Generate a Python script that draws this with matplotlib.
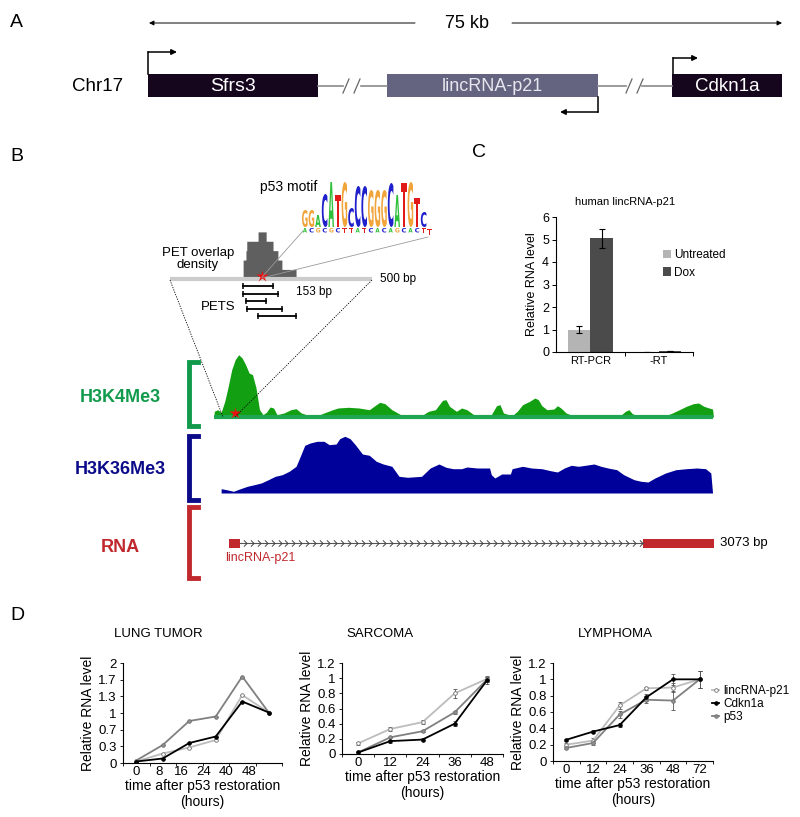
import numpy as np
import matplotlib
matplotlib.use('Agg')
import matplotlib.pyplot as plt
from matplotlib.patches import Rectangle, PathPatch
from matplotlib.textpath import TextPath
from matplotlib.font_manager import FontProperties, fontManager
from matplotlib.path import Path
import matplotlib.transforms as mtransforms
from matplotlib.lines import Line2D

plt.rcParams['font.family'] = ['Liberation Sans', 'DejaVu Sans']
installed = {f.name for f in fontManager.ttflist}
narrow = 'Liberation Sans Narrow' if 'Liberation Sans Narrow' in installed else 'Liberation Sans'

# ---------------- data ----------------
# panel A genes
gene_names = ['Sfrs3', 'lincRNA-p21', 'Cdkn1a']

# panel B: p53 motif logo (main letter + small letter under it)
motif_letters = ['G', 'G', 'A', 'C', 'A', 'T', 'G', 'C', 'C', 'C', 'G', 'G', 'G', 'C', 'A', 'T', 'G', 'T', 'C']
motif_heights = [17, 17, 12, 33, 45, 32, 45, 19, 41, 41, 37, 37, 37, 44, 32, 44, 45, 29, 15]
motif_small = ['A', 'C', 'G', 'C', 'G', 'C', 'T', 'T', 'A', 'T', 'C', 'A', 'C', 'A', 'G', 'C', 'A', 'C', 'T']

# PETs inside the 500 bp window (bp start, bp end)
pet_start = [181, 181, 188, 190, 218]
pet_end = [255, 267, 238, 277, 312]
p53_site_bp = 228

# H3K4Me3 signal (position in bp relative to lincRNA-p21 TSS, height)
k4_pos = [-94, -72, -50, -27, -5, 17, 39, 61, 83, 105, 127, 149, 171, 193, 215, 237, 260, 282, 304, 348,
          392, 425, 458, 491, 558, 602, 657, 690, 756, 823, 889, 933, 955, 988, 1032, 1088, 1154, 1220,
          1264, 1308, 1353, 1375, 1397, 1441, 1474, 1507, 1551, 1595, 1662, 1695, 1717, 1739, 1794, 1827,
          1860, 1905, 1938, 1960, 1982, 2015, 2059, 2081, 2103, 2136, 2169, 2214, 2479, 2512, 2534, 2556,
          2589, 2766, 2810, 2854, 2898, 2942, 2975, 3009, 3042, 3064, 3070]
k4_sig = [5.7, 7.3, 4.7, 15.7, 30.7, 47.3, 57.3, 62.3, 59, 52.3, 44, 42.3, 29, 7.3, 2.3, 4.7, 10, 9, 2.3, 4,
          7.3, 8.3, 4, 2.3, 1.3, 4, 7.3, 9, 9.7, 9, 7.3, 12.3, 14.7, 13.3, 7.3, 2.3, 1.3, 1.3,
          5.7, 7.3, 16.7, 17.3, 10.7, 5.7, 9, 7.3, 2.3, 1.3, 2.3, 11.3, 12.3, 4, 1.3, 5.7,
          12.3, 15.7, 19, 17.3, 11.3, 7.3, 8, 11.3, 9, 4, 2, 1.3, 1.3, 5.7, 7.3, 3.3,
          1.3, 1.3, 4, 7.3, 10.7, 13.3, 14, 10.7, 9, 8, 0]

# H3K36Me3 signal
k36_pos = [-50, -16, 28, 72, 116, 160, 204, 249, 293, 337, 381, 425, 447, 480, 514, 558, 602, 635, 679,
           701, 734, 767, 800, 845, 889, 933, 977, 1032, 1077, 1132, 1220, 1275, 1330, 1375, 1419, 1474,
           1507, 1573, 1651, 1662, 1684, 1728, 1783, 1794, 1860, 1916, 1982, 2037, 2081, 2125, 2169, 2214,
           2258, 2313, 2357, 2401, 2457, 2501, 2567, 2611, 2655, 2699, 2766, 2832, 2898, 2964, 3020, 3053, 3064]
k36_sig = [4.3, 3.3, 1.7, 4.3, 6.7, 8.3, 10, 13.3, 16.7, 18.3, 21.7, 26.7, 35, 47.7, 50, 51.7, 51.7, 48.3, 49,
           54.3, 56.7, 54.3, 48.3, 39, 37.7, 31.7, 29, 26.7, 16.7, 15.7, 16.7, 25, 29, 25.7, 24.3, 24.3,
           26, 25, 25, 18.3, 15, 19, 19, 24.3, 26.7, 25, 24.3, 22.3, 21, 25, 27.7, 26.7,
           27.7, 29, 26.7, 25, 23.3, 18.3, 13.3, 11.7, 11, 15, 20, 23.3, 24.3, 25, 24.3, 20, 0]

# lincRNA-p21 exons (bp)
exon_start = [0, 2623]
exon_end = [70, 3073]

# panel C
c_groups = ['RT-PCR', '-RT']
c_untreated = [1.0, 0.02]
c_untreated_err = [0.17, 0.0]
c_dox = [5.05, 0.05]
c_dox_err = [0.42, 0.0]

# panel D
lung_t = ['0', '8', '16', '24', '40', '48']
lung_lnc = [0.03, 0.19, 0.31, 0.46, 1.36, 1.01]
lung_cdk = [0.03, 0.09, 0.40, 0.53, 1.23, 1.01]
lung_p53 = [0.05, 0.36, 0.84, 0.93, 1.73, 1.01]

sar_t = ['0', '12', '24', '36', '48']
sar_lnc = [0.14, 0.33, 0.42, 0.80, 0.99]
sar_lnc_err = [0.02, 0.03, 0.03, 0.06, 0.04]
sar_cdk = [0.02, 0.17, 0.19, 0.40, 0.97]
sar_cdk_err = [0.0, 0.02, 0.02, 0.03, 0.05]
sar_p53 = [0.02, 0.22, 0.30, 0.55, 0.98]
sar_p53_err = [0.0, 0.01, 0.01, 0.02, 0.03]

lym_t = ['0', '12', '24', '36', '48', '72']
lym_lnc = [0.20, 0.25, 0.68, 0.89, 0.90, 1.0]
lym_lnc_err = [0.02, 0.03, 0.04, 0.02, 0.05, 0.1]
lym_cdk = [0.26, 0.36, 0.44, 0.78, 1.0, 1.0]
lym_cdk_err = [0.01, 0.02, 0.02, 0.04, 0.07, 0.1]
lym_p53 = [0.16, 0.22, 0.57, 0.75, 0.74, 1.0]
lym_p53_err = [0.01, 0.02, 0.04, 0.04, 0.12, 0.1]

# ---------------- figure ----------------
W, H = 800, 817
fig = plt.figure(figsize=(W / 100, H / 100), dpi=100)


def px_axes(x0, x1, y_top, y_bot):
    return fig.add_axes([x0 / W, 1 - y_bot / H, (x1 - x0) / W, (y_bot - y_top) / H])


ax0 = fig.add_axes([0, 0, 1, 1])
ax0.set_xlim(0, W)
ax0.set_ylim(H, 0)
ax0.axis('off')
ax0.set_zorder(10)
ax0.patch.set_alpha(0)

# ---- panel A ----
ax0.text(10, 22, 'A', fontsize=14, va='center')
arr = dict(arrowstyle='-|>', lw=0.7, color='k', mutation_scale=7, shrinkA=0, shrinkB=0)
ax0.annotate('', xy=(149, 23), xytext=(415, 23), arrowprops=arr)
ax0.annotate('', xy=(782, 23), xytext=(512, 23), arrowprops=arr)
ax0.text(467, 23, '75 kb', fontsize=13, ha='center', va='center')

ax0.text(72, 86, 'Chr17', fontsize=13.5, va='center')
for x0, x1 in [(318, 343), (361, 387), (598, 626), (642, 672)]:
    ax0.plot([x0, x1], [86, 86], color='#8a8a8a', lw=1.2)
for xs in [343, 354, 626, 637]:
    ax0.plot([xs, xs + 6], [93, 79], color='#666666', lw=0.9)

boxes = [(148, 318, '#15061d', 'white', 14), (387, 598, '#646480', '#e6e6ee', 13), (672, 782, '#15061d', 'white', 13.5)]
for (x0, x1, fc, tc, fs), name in zip(boxes, gene_names):
    ax0.add_patch(Rectangle((x0, 74), x1 - x0, 23, facecolor=fc, edgecolor='none'))
    ax0.text((x0 + x1) / 2, 86, name, color=tc, fontsize=fs, ha='center', va='center')

tss = dict(arrowstyle='-|>', lw=1.1, color='k', mutation_scale=8, shrinkA=0, shrinkB=0)
ax0.plot([148, 148], [74, 52], color='k', lw=1.1)
ax0.annotate('', xy=(177, 52), xytext=(148, 52), arrowprops=tss)
ax0.plot([673, 673], [74, 58], color='k', lw=1.1)
ax0.annotate('', xy=(698, 58), xytext=(673, 58), arrowprops=tss)
ax0.plot([598, 598], [97, 112], color='k', lw=1.1)
ax0.annotate('', xy=(560, 112), xytext=(598, 112), arrowprops=tss)

# ---- panel B ----
ax0.text(10, 156, 'B', fontsize=14, va='center')
ax0.text(260, 187, 'p53 motif', fontsize=10, va='center')

logo_colors = {'A': '#2fbf3a', 'C': '#1f1fcc', 'G': '#f0a43a', 'T': '#e01919'}
fp_logo = FontProperties(family='DejaVu Sans', weight='bold')


def draw_letter(ch, x, y_bottom, w, h, color):
    tp = TextPath((0, 0), ch, size=1, prop=fp_logo)
    bb = tp.get_extents()
    tr = (mtransforms.Affine2D().translate(-bb.x0, -bb.y0)
          .scale(w / bb.width, -h / bb.height).translate(x, y_bottom))
    ax0.add_patch(PathPatch(tr.transform_path(tp), facecolor=color, edgecolor='none'))


for i, (ch, hgt, sm) in enumerate(zip(motif_letters, motif_heights, motif_small)):
    x = 302 + i * 6.6
    draw_letter(ch, x, 227, 5.6, hgt, logo_colors[ch])
    draw_letter(sm, x + 0.8, 232.5, 4.2, 4.5, logo_colors[sm])
draw_letter('T', 302 + 19 * 6.6, 235, 4.2, 6, logo_colors['T'])

ax0.plot([262, 303], [277, 231], color='#9a9a9a', lw=0.6)
ax0.plot([262, 428], [278, 237], color='#9a9a9a', lw=0.6)

# PET window: 500 bp
axp = px_axes(170, 372, 230, 322)
axp.set_xlim(0, 500)
axp.set_ylim(-4.6, 5.2)
axp.axis('off')
axp.set_zorder(6)
grid = np.arange(0, 501)
density = [sum(1 for s, e in zip(pet_start, pet_end) if s <= g < e) for g in grid]
axp.fill_between(grid, density, step='post', color='#5f5f5f', lw=0)
axp.plot([0, 500], [0, 0], color='#cccccc', lw=3, solid_capstyle='butt')
for k, (s, e) in enumerate(zip(pet_start, pet_end)):
    yy = -0.8 * (k + 1)
    axp.plot([s, e], [yy, yy], color='k', lw=1.3, marker='|', ms=4, mew=1.1)
axp.plot(p53_site_bp, 0.35, marker='*', color='#ee1111', ms=9, mec='none')

ax0.text(380, 279, '500 bp', fontsize=8.5, va='center')
ax0.text(296, 292, '153 bp', fontsize=8.5, va='center')
ax0.text(235, 307, 'PETS', fontsize=9.5, va='center', ha='right')
ax0.text(198, 259, 'PET overlap\ndensity', fontsize=9.5, va='center', ha='center', linespacing=1.0)

ax0.plot([170, 223], [280, 417], color='k', lw=0.6, ls=(0, (1.5, 1.5)))
ax0.plot([372, 235], [280, 417], color='k', lw=0.6, ls=(0, (1.5, 1.5)))


def track_axes(y_top, y_bot):
    a = px_axes(200, 740, y_top, y_bot)
    a.set_xlim(-184, 3238)
    a.axis('off')
    return a


ax_k4 = track_axes(355, 417)
ax_k4.set_ylim(0, 62)
ax_k4.fill_between(k4_pos, k4_sig, color='#12a012', lw=0)
ax_k4.plot([k4_pos[0], k4_pos[-1]], [0, 0], color='#1fa650', lw=3, solid_capstyle='butt', clip_on=False)
ax_k4.plot(38, 3.5, marker='*', color='#ee1111', ms=9, mec='none', clip_on=False)

ax_k36 = track_axes(436, 493)
ax_k36.set_ylim(0, 57)
ax_k36.fill_between(k36_pos, k36_sig, color='#00009a', lw=0)

ax_rna = track_axes(528, 558)
ax_rna.set_ylim(0, 30)
ax_rna.plot([exon_end[0], exon_start[1]], [15, 15], color='#555555', lw=0.8)
chevron = Path([(-0.5, 1), (0.5, 0), (-0.5, -1)], [Path.MOVETO, Path.LINETO, Path.LINETO])
chev = np.arange(exon_end[0] + 30, exon_start[1], 44)
ax_rna.plot(chev, np.full(len(chev), 15), ls='none', marker=chevron, ms=4.5, mfc='none',
            mec='#444444', mew=0.7)
for s, e in zip(exon_start, exon_end):
    ax_rna.add_patch(Rectangle((s, 10.5), e - s, 9, facecolor='#c0282d', edgecolor='none'))

ax0.text(720, 543, '3073 bp', fontsize=9.5, va='center')
ax0.text(225, 558, 'lincRNA-p21', fontsize=9, va='center', color='#c0282d')

for (y0, y1, col, lab, ly) in [(362, 426, '#119a4c', 'H3K4Me3', 397),
                               (436, 500, '#0b0b8a', 'H3K36Me3', 469),
                               (507, 578, '#c0282d', 'RNA', 548)]:
    ax0.plot([198, 189, 189, 198], [y0, y0, y1, y1], color=col, lw=3.5, solid_joinstyle='miter')
    ax0.text(120, ly, lab, color=col, fontsize=13, fontweight='bold', ha='center', va='center')

# ---- panel C ----
ax0.text(472, 152, 'C', fontsize=14, va='center')
ax0.text(625, 202, 'human lincRNA-p21', fontsize=8, ha='center', va='center', family=narrow)
axc = px_axes(556, 693, 217, 352)
xc = np.arange(len(c_groups))
ek = dict(lw=0.8, capsize=2, capthick=0.8)
axc.bar(xc - 0.165, c_untreated, 0.33, yerr=c_untreated_err, color='#b4b4b4', label='Untreated', error_kw=ek)
axc.bar(xc + 0.165, c_dox, 0.33, yerr=c_dox_err, color='#4b4b4b', label='Dox', error_kw=ek)
axc.set_xlim(-0.5, 1.5)
axc.set_ylim(0, 6)
axc.set_yticks(range(7))
axc.set_xticks(xc)
axc.set_xticklabels(c_groups, family=narrow)
axc.set_xticks([0.5, 1.5], minor=True)
axc.tick_params(axis='x', which='major', length=0, labelsize=8, pad=3)
axc.tick_params(axis='x', which='minor', length=3, width=0.7)
axc.tick_params(axis='y', length=3, width=0.7, labelsize=9, pad=2)
for lbl in axc.get_yticklabels():
    lbl.set_family(narrow)
for sp in ['top', 'right']:
    axc.spines[sp].set_visible(False)
for sp in ['left', 'bottom']:
    axc.spines[sp].set_linewidth(0.8)
axc.set_ylabel('Relative RNA level', fontsize=9, labelpad=3, family=narrow)
axc.legend(frameon=False, prop=dict(family=narrow, size=8.5), handlelength=0.7, handleheight=0.7,
           handletextpad=0.3, labelspacing=0.45, loc='center left', bbox_to_anchor=(652 / W, 1 - 264 / H),
           bbox_transform=fig.transFigure)

# ---- panel D ----
ax0.text(10, 616, 'D', fontsize=14, va='center')
styles = {
    'lincRNA-p21': dict(color='#bcbcbc', mfc='white', mec='#707070'),
    'Cdkn1a': dict(color='black', mfc='black', mec='black'),
    'p53': dict(color='#808080', mfc='#909090', mec='#707070'),
}


def time_panel(box, title, title_x, tlabels, series, ymax, yticks, yticklabels, label_step=1.0):
    ax = px_axes(*box)
    x = np.arange(len(tlabels))
    for name, vals, errs in series:
        st = styles[name]
        ax.errorbar(x, vals, yerr=errs, color=st['color'], lw=1.3, marker='o', ms=2.6,
                    mfc=st['mfc'], mec=st['mec'], mew=0.6, ecolor='#555555', elinewidth=0.6,
                    capsize=1.5, capthick=0.6, label=name)
    ax.set_xlim(-0.5, len(tlabels) - 0.5)
    ax.set_ylim(0, ymax)
    ax.set_xticks(x * label_step)
    ax.set_xticklabels(tlabels)
    ax.set_xticks(np.arange(len(tlabels) + 1) - 0.5, minor=True)
    ax.set_yticks(yticks)
    ax.set_yticklabels(yticklabels)
    ax.tick_params(axis='x', which='major', length=0, labelsize=9.5, pad=2)
    ax.tick_params(axis='x', which='minor', length=2.5, width=0.6)
    ax.tick_params(axis='y', length=2.5, width=0.6, labelsize=9.5, pad=2)
    for sp in ['top', 'right']:
        ax.spines[sp].set_visible(False)
    for sp in ['left', 'bottom']:
        ax.spines[sp].set_linewidth(0.8)
    ax.set_ylabel('Relative RNA level', fontsize=10, labelpad=2)
    ax.set_xlabel('time after p53 restoration\n(hours)', fontsize=10, labelpad=1, linespacing=1.15)
    ax0.text(title_x, 634, title, fontsize=9.5, ha='center', va='center')
    return ax


zero6 = [0] * 6
time_panel((123, 282, 663, 763), 'LUNG TUMOR', 158, lung_t,
           [('lincRNA-p21', lung_lnc, zero6), ('p53', lung_p53, zero6), ('Cdkn1a', lung_cdk, zero6)],
           2.0, [0, 1 / 3, 2 / 3, 1, 4 / 3, 5 / 3, 2], ['0', '0.3', '0.7', '1', '1.3', '1.7', '2'],
           label_step=0.85)
time_panel((342, 503, 663, 754), 'SARCOMA', 380, sar_t,
           [('lincRNA-p21', sar_lnc, sar_lnc_err), ('p53', sar_p53, sar_p53_err), ('Cdkn1a', sar_cdk, sar_cdk_err)],
           1.2, [0, 0.2, 0.4, 0.6, 0.8, 1, 1.2], ['0', '0.2', '0.4', '0.6', '0.8', '1', '1.2'])
axl = time_panel((553, 713, 663, 761), 'LYMPHOMA', 615, lym_t,
                 [('lincRNA-p21', lym_lnc, lym_lnc_err), ('p53', lym_p53, lym_p53_err), ('Cdkn1a', lym_cdk, lym_cdk_err)],
                 1.2, [0, 0.2, 0.4, 0.6, 0.8, 1, 1.2], ['0', '0.2', '0.4', '0.6', '0.8', '1', '1.2'])
handles = [Line2D([], [], lw=1.3, marker='o', ms=2.6, mew=0.6, **styles[n]) for n in ['lincRNA-p21', 'Cdkn1a', 'p53']]
axl.legend(handles, ['lincRNA-p21', 'Cdkn1a', 'p53'], frameon=False, fontsize=8.5, handlelength=0.6,
           handletextpad=0.35, labelspacing=0.1, loc='center left', bbox_to_anchor=(712 / W, 1 - 704 / H),
           bbox_transform=fig.transFigure, borderpad=0, borderaxespad=0)

fig.savefig('out.png', dpi=100)
